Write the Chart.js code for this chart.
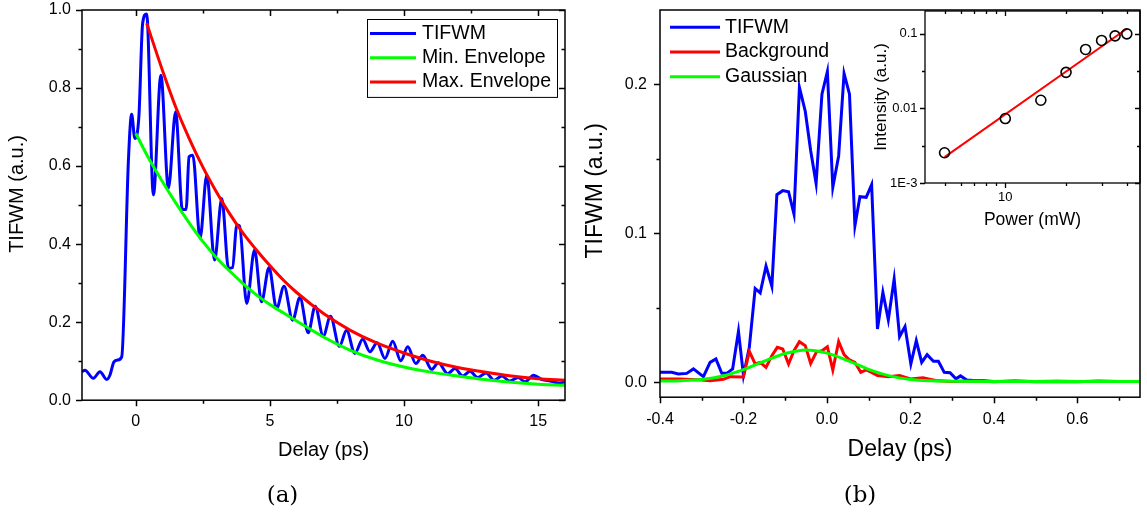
<!DOCTYPE html>
<html>
<head>
<meta charset="utf-8">
<script src="https://cdn.jsdelivr.net/npm/chart.js@4.4.1/dist/chart.umd.min.js"></script>
<style>
  body { margin: 0; background: #fff; }
  #wrap { position: relative; width: 1147px; height: 514px; overflow: hidden; background: #fff; }
  canvas { position: absolute; top: 0; }
  #chartA { left: 0; }
  #chartB { left: 580px; }
  #inset { left: 866px; }
</style>
</head>
<body>
<div id="wrap">
  <canvas id="chartA" width="580" height="514"></canvas>
  <canvas id="chartB" width="567" height="514"></canvas>
  <canvas id="inset" width="281" height="240"></canvas>
</div>
<script>
// ---- panel (a): TIFWM vs delay with envelopes ----
const aDelay = [-2.0, -1.89, -1.58, -1.33, -1.08, -0.96, -0.81, -0.67, -0.52, -0.27, -0.15, -0.03, 0.12, 0.26, 0.41,
  0.66, 0.94, 1.22, 1.49, 1.74, 1.88, 1.99, 2.13, 2.40, 2.65, 2.94, 3.21, 3.46, 3.61, 3.77, 3.87, 4.14, 4.43, 4.69,
  4.97, 5.25, 5.53, 5.85, 6.12, 6.43, 6.69, 6.99, 7.26, 7.59, 7.86, 8.17, 8.46, 8.73, 9.00, 9.29, 9.58, 9.88, 10.14,
  10.44, 10.70, 11.03, 11.28, 11.63, 11.90, 12.19, 12.46, 12.75, 13.06, 13.36, 13.65, 13.93, 14.26, 14.51, 14.83,
  15.14, 15.45, 15.76, 16.0];
const aTifwm = [0.073, 0.077, 0.056, 0.073, 0.053, 0.064, 0.098, 0.103, 0.111, 0.615, 0.733, 0.671, 0.727, 0.966, 0.99,
  0.526, 0.833, 0.543, 0.739, 0.489, 0.489, 0.624, 0.628, 0.415, 0.577, 0.359, 0.517, 0.338, 0.340, 0.449, 0.447, 0.248,
  0.385, 0.252, 0.340, 0.235, 0.292, 0.205, 0.263, 0.173, 0.241, 0.164, 0.215, 0.138, 0.179, 0.120, 0.156, 0.124, 0.147,
  0.107, 0.151, 0.101, 0.137, 0.094, 0.115, 0.079, 0.096, 0.068, 0.081, 0.062, 0.074, 0.058, 0.070, 0.051, 0.062,
  0.049, 0.058, 0.047, 0.064, 0.053, 0.049, 0.044, 0.047];
const aMinDelay = [0.0, 0.5, 1.0, 1.5, 2.0, 2.5, 3.0, 3.5, 4.0, 4.5, 5.0, 5.5, 6.0, 7.0, 8.0, 9.0, 10.0, 11.0, 12.0, 13.0, 14.0, 15.0, 16.0];
const aMinEnv = [0.684, 0.618, 0.560, 0.505, 0.454, 0.407, 0.366, 0.331, 0.299, 0.270, 0.245, 0.224, 0.203, 0.162, 0.128,
  0.103, 0.085, 0.072, 0.062, 0.053, 0.046, 0.041, 0.038];
const aMaxDelay = [0.41, 1.0, 1.5, 2.0, 2.5, 3.0, 3.5, 4.0, 4.5, 5.0, 5.5, 6.0, 7.0, 8.0, 9.0, 10.0, 11.0, 12.0, 13.0, 14.0, 15.0, 16.0];
const aMaxEnv = [0.966, 0.845, 0.750, 0.670, 0.598, 0.535, 0.478, 0.428, 0.385, 0.345, 0.308, 0.276, 0.222, 0.179, 0.146,
  0.121, 0.100, 0.084, 0.072, 0.062, 0.055, 0.051];
const aXTicks = [0, 2.5, 5, 7.5, 10, 12.5, 15];
const aXLabels = ["0", "", "5", "", "10", "", "15"];
const aYTicks = [0, 0.1, 0.2, 0.3, 0.4, 0.5, 0.6, 0.7, 0.8, 0.9, 1.0];
const aYLabels = ["0.0", "", "0.2", "", "0.4", "", "0.6", "", "0.8", "", "1.0"];

// ---- panel (b): TIFWM, background and gaussian ----
const bDelay = [-0.400, -0.372, -0.356, -0.336, -0.320, -0.296, -0.280, -0.266, -0.252, -0.240, -0.226, -0.212, -0.200,
  -0.186, -0.172, -0.160, -0.146, -0.132, -0.120, -0.106, -0.092, -0.079, -0.066, -0.052, -0.039, -0.026, -0.012, 0.001,
  0.014, 0.028, 0.041, 0.054, 0.067, 0.079, 0.094, 0.107, 0.121, 0.134, 0.147, 0.161, 0.174, 0.187, 0.201, 0.214, 0.227,
  0.240, 0.255, 0.267, 0.281, 0.295, 0.309, 0.320, 0.335, 0.35, 0.375, 0.40, 0.45, 0.50, 0.55, 0.60, 0.65, 0.70, 0.75];
const bTifwm = [0.0067, 0.0067, 0.0056, 0.0060, 0.0090, 0.0038, 0.0134, 0.0157, 0.0060, 0.0060, 0.0090, 0.0342, 0.0045,
  0.0235, 0.0630, 0.0600, 0.0780, 0.0645, 0.1260, 0.1287, 0.1280, 0.1130, 0.1980, 0.1820, 0.1555, 0.1336, 0.1935, 0.2087,
  0.1309, 0.1520, 0.2074, 0.1935, 0.1052, 0.1246, 0.1242, 0.1327, 0.0358, 0.0604, 0.0419, 0.0694, 0.0307, 0.0374, 0.0123,
  0.0280, 0.0134, 0.0186, 0.0141, 0.0141, 0.0067, 0.0065, 0.0023, 0.0043, 0.0016, 0.0012, 0.0010, 0.0006, 0.0007, 0.0005,
  0.0007, 0.0006, 0.0005, 0.0006, 0.0006];
const bBgDelay = [-0.400, -0.352, -0.300, -0.280, -0.248, -0.232, -0.200, -0.186, -0.172, -0.160, -0.146, -0.132, -0.119,
  -0.106, -0.092, -0.079, -0.066, -0.052, -0.039, -0.025, -0.012, 0.001, 0.014, 0.028, 0.041, 0.054, 0.067, 0.081, 0.094,
  0.107, 0.121, 0.147, 0.174, 0.200, 0.230, 0.260, 0.300, 0.350, 0.400, 0.450, 0.500, 0.550, 0.600, 0.650, 0.700, 0.750];
const bBackground = [0.0023, 0.0023, 0.0015, 0.0010, 0.0020, 0.0038, 0.0036, 0.0208, 0.0123, 0.0134, 0.0100, 0.0179,
  0.0235, 0.0224, 0.0123, 0.0212, 0.0273, 0.0246, 0.0127, 0.0205, 0.0212, 0.0239, 0.0083, 0.0273, 0.0186, 0.0150, 0.0134,
  0.0067, 0.0083, 0.0067, 0.0045, 0.0038, 0.0045, 0.0023, 0.0030, 0.0012, 0.0005, 0.0010, 0.0004, 0.0008, 0.0004, 0.0006,
  0.0004, 0.0008, 0.0005, 0.0006];
const bGaussDelay = [-0.40, -0.35, -0.30, -0.25, -0.20, -0.15, -0.10, -0.05, 0.00, 0.05, 0.10, 0.15, 0.20, 0.25, 0.30,
  0.40, 0.50, 0.60, 0.75];
const bGaussian = [0.0008, 0.0011, 0.0019, 0.0042, 0.0085, 0.0142, 0.0193, 0.0217, 0.0196, 0.0146, 0.0087, 0.0043, 0.0019,
  0.0010, 0.0007, 0.0006, 0.0006, 0.0006, 0.0006];
const bXTicks = [-0.4, -0.3, -0.2, -0.1, 0, 0.1, 0.2, 0.3, 0.4, 0.5, 0.6, 0.7];
const bXLabels = ["-0.4", "", "-0.2", "", "0.0", "", "0.2", "", "0.4", "", "0.6", ""];
const bYTicks = [0, 0.05, 0.1, 0.15, 0.2];
const bYLabels = ["0.0", "", "0.1", "", "0.2"];

// ---- inset: intensity vs power (log-log) ----
const power = [5, 10, 15, 20, 25, 30, 35, 40];
const intensity = [0.00254, 0.00728, 0.0128, 0.0302, 0.0612, 0.0807, 0.093, 0.099];
const fitPower = [5, 40];
const fitIntensity = [0.00222, 0.1156];
const insetXTicks = [5, 6, 7, 8, 9, 10, 20, 30, 40];
const insetXLabels = ["", "", "", "", "", "10", "", "", ""];
const insetYTicks = [0.001, 0.00316, 0.01, 0.0316, 0.1];
const insetYLabels = ["1E-3", "", "0.01", "", "0.1"];

const SANS = "'Liberation Sans', Arial, sans-serif";
const NB = "\u00a0\u00a0\u00a0\u00a0"; // nudges the rotated y titles upward a little
Chart.defaults.color = "#000";
Chart.defaults.font.family = SANS;

function points(xs, ys) {
  return xs.map((x, i) => ({ x: x, y: ys[i] }));
}

// box round the plot area plus major / minor tick marks
const framePlugin = {
  id: "frame",
  afterDatasetsDraw(chart, args, opts) {
    const ctx = chart.ctx;
    const a = chart.chartArea;
    const sx = chart.scales.x;
    const sy = chart.scales.y;
    ctx.save();
    ctx.strokeStyle = "#000";
    ctx.lineWidth = opts.width;
    ctx.strokeRect(a.left, a.top, a.right - a.left, a.bottom - a.top);
    ctx.beginPath();
    sx.ticks.forEach(t => {
      const px = Math.round(sx.getPixelForValue(t.value)) + 0.5;
      const len = t.label !== "" ? opts.major : opts.minor;
      ctx.moveTo(px, a.bottom);
      ctx.lineTo(px, a.bottom + len);
      if (opts.mirror) {
        ctx.moveTo(px, a.top);
        ctx.lineTo(px, a.top + len);
      }
    });
    sy.ticks.forEach(t => {
      const py = Math.round(sy.getPixelForValue(t.value)) + 0.5;
      const len = t.label !== "" ? opts.major : opts.minor;
      ctx.moveTo(a.left, py);
      ctx.lineTo(a.left - len, py);
      if (opts.mirror) {
        ctx.moveTo(a.right, py);
        ctx.lineTo(a.right - len, py);
      }
    });
    ctx.stroke();
    ctx.restore();
  }
};

// legend drawn inside the plot area
const legendPlugin = {
  id: "legendBox",
  afterDraw(chart, args, opts) {
    const ctx = chart.ctx;
    const area = chart.chartArea;
    const sets = chart.data.datasets;
    ctx.save();
    ctx.font = opts.font;
    const textW = Math.max(...sets.map(d => ctx.measureText(d.label).width));
    const w = opts.textGap + textW + 6;
    const h = opts.rowH * sets.length + 5;
    const left = opts.alignRight ? area.right - opts.dx - w : area.left + opts.dx;
    const top = area.top + opts.dy;
    if (opts.box) {
      ctx.lineWidth = 1;
      ctx.strokeStyle = "#000";
      ctx.strokeRect(left + 0.5, top + 0.5, w, h);
    }
    sets.forEach((ds, i) => {
      const y = top + opts.firstRow + i * opts.rowH;
      ctx.strokeStyle = ds.borderColor;
      ctx.lineWidth = 3;
      ctx.beginPath();
      ctx.moveTo(left + 3, y);
      ctx.lineTo(left + opts.sample, y);
      ctx.stroke();
      ctx.fillStyle = "#000";
      ctx.textBaseline = "middle";
      ctx.textAlign = "left";
      ctx.fillText(ds.label, left + opts.textGap, y);
    });
    ctx.restore();
  }
};

function fixedTicks(values) {
  return scale => { scale.ticks = values.map(v => ({ value: v })); };
}

// fixed axis sizes so the plot areas land where the reference has them
function fitWidth(w) {
  return s => { s.width = w; s.paddingTop = 0; s.paddingBottom = 0; };
}
function fitHeight(h) {
  return s => { s.height = h; s.paddingLeft = 0; s.paddingRight = 0; };
}

function lineSet(label, xs, ys, color, order, smooth) {
  return {
    label: label,
    data: points(xs, ys),
    borderColor: color,
    borderWidth: 3,
    pointRadius: 0,
    cubicInterpolationMode: smooth ? "monotone" : "default",
    tension: 0,
    fill: false,
    order: order
  };
}

// ---- panel (a) ----
new Chart(document.getElementById("chartA"), {
  type: "line",
  data: {
    datasets: [
      lineSet("TIFWM", aDelay, aTifwm, "#0000ff", 2, true),
      lineSet("Min. Envelope", aMinDelay, aMinEnv, "#00ff00", 1, true),
      lineSet("Max. Envelope", aMaxDelay, aMaxEnv, "#ff0000", 0, true)
    ]
  },
  options: {
    responsive: false,
    animation: false,
    events: [],
    layout: { padding: { left: 0, top: 10, right: 15, bottom: 0 } },
    scales: {
      x: {
        type: "linear", min: -2, max: 16, bounds: "data",
        afterBuildTicks: fixedTicks(aXTicks),
        afterFit: fitHeight(82.2),
        grid: { display: false, drawTicks: true, tickLength: 6 },
        border: { display: false },
        ticks: { autoSkip: false, maxRotation: 0, padding: 6, font: { size: 16 }, callback: (v, i) => aXLabels[i] },
        title: { display: true, text: "Delay (ps)", font: { size: 20 }, padding: { top: 0, bottom: 20 } }
      },
      y: {
        type: "linear", min: 0, max: 1, bounds: "data",
        afterBuildTicks: fixedTicks(aYTicks),
        afterFit: fitWidth(82),
        grid: { display: false, drawTicks: true, tickLength: 6 },
        border: { display: false },
        ticks: { autoSkip: false, padding: 5, font: { size: 16 }, callback: (v, i) => aYLabels[i] },
        title: { display: true, text: NB + "TIFWM (a.u.)", font: { size: 20 }, padding: { top: 5.5, bottom: 0 } }
      }
    },
    plugins: {
      legend: { display: false },
      tooltip: { enabled: false },
      title: {
        display: true, text: "(a)", position: "bottom", color: "#000",
        font: { family: "'DejaVu Serif', serif", size: 23, weight: "normal" },
        padding: { top: 0, bottom: 4 }
      },
      frame: { width: 1.5, major: 6, minor: 3.5, mirror: true },
      legendBox: { font: "19.5px " + SANS, box: true, alignRight: true, dx: 8, dy: 9, firstRow: 14.5, rowH: 24.3, sample: 49, textGap: 55 }
    }
  },
  plugins: [framePlugin, legendPlugin]
});

// ---- panel (b) ----
new Chart(document.getElementById("chartB"), {
  type: "line",
  data: {
    datasets: [
      lineSet("TIFWM", bDelay, bTifwm, "#0000ff", 2, false),
      lineSet("Background", bBgDelay, bBackground, "#ff0000", 1, false),
      lineSet("Gaussian", bGaussDelay, bGaussian, "#00ff00", 0, true)
    ]
  },
  options: {
    responsive: false,
    animation: false,
    events: [],
    layout: { padding: { left: 0, top: 10, right: 7, bottom: 0 } },
    scales: {
      x: {
        type: "linear", min: -0.4, max: 0.75, bounds: "data",
        afterBuildTicks: fixedTicks(bXTicks),
        afterFit: fitHeight(85.2),
        grid: { display: false, drawTicks: true, tickLength: 6 },
        border: { display: false },
        ticks: { autoSkip: false, maxRotation: 0, padding: 7, font: { size: 16 }, callback: (v, i) => bXLabels[i] },
        title: { display: true, text: "Delay (ps)", font: { size: 23 }, padding: { top: 0, bottom: 19.4 } }
      },
      y: {
        type: "linear", min: -0.01, max: 0.25, bounds: "data",
        afterBuildTicks: fixedTicks(bYTicks),
        afterFit: fitWidth(80),
        grid: { display: false, drawTicks: true, tickLength: 6 },
        border: { display: false },
        ticks: { autoSkip: false, padding: 7, font: { size: 16 }, callback: (v, i) => bYLabels[i] },
        title: { display: true, text: NB + "TIFWM (a.u.)", font: { size: 23 }, padding: { top: 2, bottom: 0 } }
      }
    },
    plugins: {
      legend: { display: false },
      tooltip: { enabled: false },
      title: {
        display: true, text: "(b)", position: "bottom", color: "#000",
        font: { family: "'DejaVu Serif', serif", size: 23, weight: "normal" },
        padding: { top: 0, bottom: 4 }
      },
      frame: { width: 1.5, major: 6, minor: 3.5, mirror: false },
      legendBox: { font: "19.5px " + SANS, box: false, alignRight: false, dx: 7, dy: 0, firstRow: 17.3, rowH: 24.7, sample: 53, textGap: 58 }
    }
  },
  plugins: [framePlugin, legendPlugin]
});

// ---- inset ----
new Chart(document.getElementById("inset"), {
  type: "line",
  data: {
    datasets: [
      {
        label: "Fit",
        data: points(fitPower, fitIntensity),
        borderColor: "#ff0000",
        borderWidth: 2,
        pointRadius: 0,
        order: 1
      },
      {
        label: "Intensity",
        data: points(power, intensity),
        showLine: false,
        pointRadius: 5,
        pointBorderWidth: 1.6,
        pointBorderColor: "#000",
        pointBackgroundColor: "rgba(255,255,255,0)",
        order: 0
      }
    ]
  },
  options: {
    responsive: false,
    animation: false,
    events: [],
    layout: { padding: { left: 0, top: 11, right: 7, bottom: 0 } },
    scales: {
      x: {
        type: "logarithmic", min: 4, max: 46.5,
        afterBuildTicks: fixedTicks(insetXTicks),
        afterFit: fitHeight(57),
        grid: { display: false, drawTicks: true, tickLength: 4 },
        border: { display: false },
        ticks: { autoSkip: false, maxRotation: 0, padding: 3, font: { size: 13 }, callback: (v, i) => insetXLabels[i] },
        title: { display: true, text: "Power (mW)", font: { size: 17.5 }, padding: { top: 0, bottom: 9.5 } }
      },
      y: {
        type: "logarithmic", min: 0.001, max: 0.2,
        afterBuildTicks: fixedTicks(insetYTicks),
        afterFit: fitWidth(59),
        grid: { display: false, drawTicks: true, tickLength: 4 },
        border: { display: false },
        ticks: { autoSkip: false, padding: 3.5, font: { size: 13 }, callback: (v, i) => insetYLabels[i] },
        title: { display: true, text: "Intensity (a.u.)", font: { size: 17 }, padding: { top: 4.8, bottom: 0 } }
      }
    },
    plugins: {
      legend: { display: false },
      tooltip: { enabled: false },
      frame: { width: 1.3, major: 5, minor: 3, mirror: true }
    }
  },
  plugins: [framePlugin]
});
</script>
</body>
</html>
